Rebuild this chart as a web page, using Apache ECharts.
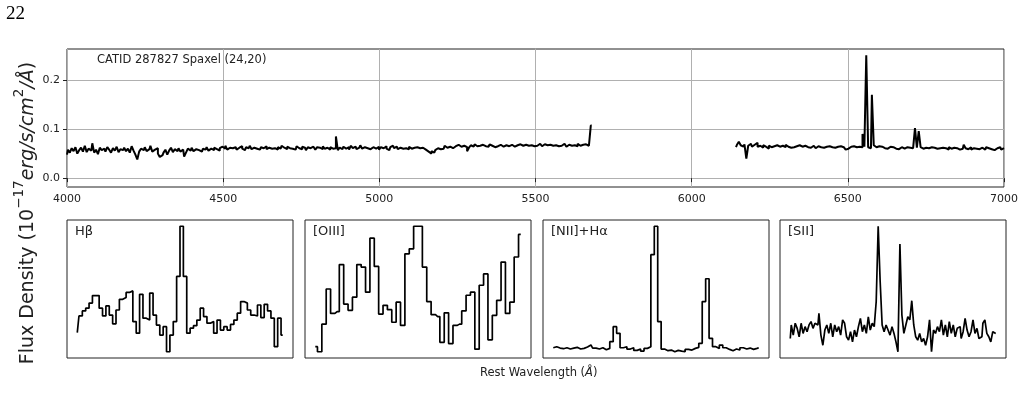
<!DOCTYPE html>
<html>
<head>
<meta charset="utf-8">
<script src="https://cdn.jsdelivr.net/npm/echarts@6/dist/echarts.min.js"></script>
<style>
html,body{margin:0;padding:0;background:#fff;}
#chart{width:1025px;height:409px;}
</style>
</head>
<body>
<div id="chart"></div>
<script>
// ---------- DATA ----------
const pageNumber = "22";
const spectrumTitle = "CATID 287827 Spaxel (24,20)";
const xTicks = [4000, 4500, 5000, 5500, 6000, 6500, 7000];
const yTicks = [0.0, 0.1, 0.2];
const panelLabels = ["H\u03b2", "[OIII]", "[NII]+H\u03b1", "[SII]"];

// full spectrum, blue segment: 4000..5680 A, 6 A sampling
const blueStart = 4000, blueStep = 6;
const blueFlux = [
.048,.058,.052,.061,.055,.063,.050,.057,.062,.054,
.066,.053,.060,.056,.071,.052,.058,.049,.062,.057,
.060,.054,.063,.058,.052,.061,.056,.064,.053,.059,
.057,.062,.055,.060,.052,.065,.056,.048,.038,.054,
.060,.057,.063,.055,.059,.066,.054,.058,.061,.050,
.043,.047,.052,.058,.048,.056,.062,.053,.059,.055,
.061,.054,.058,.044,.052,.060,.056,.062,.055,.059,
.057,.061,.054,.060,.058,.063,.056,.060,.057,.062,
.059,.056,.061,.064,.060,.066,.058,.062,.061,.059,
.063,.058,.062,.065,.060,.057,.063,.061,.066,.059,
.062,.060,.064,.058,.063,.061,.065,.059,.062,.060,
.064,.061,.058,.063,.060,.066,.062,.059,.064,.061,
.060,.063,.058,.065,.061,.059,.064,.062,.057,.063,
.061,.064,.060,.058,.063,.062,.059,.065,.060,.062,
.058,.063,.060,.061,.085,.057,.062,.059,.064,.060,
.063,.058,.066,.061,.064,.059,.062,.067,.060,.063,
.061,.065,.059,.063,.066,.060,.064,.058,.063,.061,
.065,.060,.057,.063,.066,.061,.064,.059,.062,.060,
.063,.061,.059,.064,.060,.062,.058,.063,.061,.059,
.062,.058,.060,.054,.050,.055,.052,.057,.061,.059,
.063,.060,.066,.062,.064,.067,.061,.065,.063,.068,
.064,.061,.066,.063,.055,.062,.067,.064,.069,.065,
.066,.063,.068,.065,.067,.064,.069,.066,.063,.067,
.065,.068,.066,.064,.067,.070,.065,.068,.066,.064,
.067,.065,.069,.066,.064,.068,.066,.063,.067,.065,
.068,.066,.070,.067,.065,.069,.067,.064,.068,.066,
.069,.067,.065,.068,.066,.070,.067,.064,.068,.066,
.069,.067,.065,.070,.066,.068,.064,.069,.066,.063,
.107
];
// full spectrum, red segment: 6142..7000 A, 6 A sampling
const redStart = 6142, redStep = 6;
const redFlux = [
.063,.068,.074,.067,.064,.069,.040,.066,.070,.064,
.068,.072,.064,.066,.062,.067,.064,.060,.066,.063,
.065,.062,.067,.064,.061,.066,.063,.068,.064,.062,
.066,.063,.065,.061,.067,.064,.062,.066,.063,.065,
.062,.066,.064,.061,.065,.063,.066,.062,.064,.061,
.065,.063,.066,.062,.064,.061,.065,.063,.062,.058,
.060,.064,.062,.065,.063,.066,.064,.063,.090,.064,
.250,.063,.061,.170,.067,.063,.065,.062,.064,.061,
.063,.060,.064,.061,.063,.060,.062,.059,.063,.061,
.060,.063,.059,.062,.061,.064,.102,.062,.096,.063,
.060,.062,.058,.061,.063,.059,.062,.060,.057,.061,
.062,.059,.061,.058,.063,.060,.062,.059,.061,.058,
.062,.060,.068,.061,.059,.063,.058,.061,.060,.062,
.059,.062,.060,.058,.063,.061,.059,.062,.057,.061,
.060,.063,.058,.061
];

// zoom panels
const hbStart = 4829, hbStep = 1.1;
const hbFlux = [
.0511,.0564,.0580,.0589,.0605,.0629,.0629,.0589,.0564,.0596,
.0567,.0539,.0583,.0617,.0623,.0639,.0644,.0546,.0509,.0633,
.0557,.0551,.0637,.0567,.0535,.0503,.0530,.0450,.0503,.0546,
.0690,.0850,.0690,.0509,.0525,.0533,.0551,.0589,.0562,.0541,
.0546,.0509,.0551,.0519,.0530,.0519,.0537,.0551,.0573,.0610,
.0605,.0583,.0567,.0564,.0599,.0559,.0601,.0580,.0557,.0466,
.0557,.0503
];
const o3Start = 4980, o3Step = 1.2;
const o3Flux = [
.0558,.0550,.0594,.0650,.0611,.0614,.0689,.0626,.0616,.0637,
.0689,.0685,.0645,.0731,.0686,.0610,.0624,.0617,.0597,.0629,
.0592,.0706,.0714,.0750,.0750,.0685,.0630,.0609,.0606,.0565,
.0612,.0563,.0592,.0594,.0615,.0640,.0645,.0554,.0656,.0674,
.0569,.0608,.0632,.0693,.0611,.0629,.0701,.0737
];
const haStart = 6524, haStep = 1.33;
const haFlux = [
.0612,.0628,.0607,.0597,.0612,.0592,.0607,.0618,.0592,.0602,
.0623,.0654,.0607,.0592,.0612,.0581,.0602,.0706,.0940,.0836,
.0612,.0628,.0592,.0612,.0571,.0592,.0560,.0602,.0628,.2058,
.2500,.1018,.0592,.0566,.0576,.0550,.0571,.0560,.0550,.0586,
.0576,.0602,.0618,.0680,.1330,.1684,.0758,.0628,.0602,.0654,
.0612,.0586,.0566,.0592,.0576,.0612,.0592,.0607,.0586,.0602,
.0612
];
const s2Start = 6652, s2Step = 1.4;
const s2Flux = [
.0602,.0650,.0614,.0656,.0638,.0608,.0656,.0620,.0644,.0626,
.0650,.0662,.0638,.0656,.0650,.0691,.0614,.0578,.0632,.0650,
.0620,.0656,.0608,.0650,.0626,.0644,.0614,.0668,.0656,.0608,
.0596,.0626,.0590,.0632,.0608,.0644,.0673,.0626,.0650,.0620,
.0679,.0632,.0656,.0644,.0733,.1000,.0804,.0650,.0626,.0650,
.0632,.0614,.0644,.0620,.0590,.0555,.0937,.0685,.0620,.0650,
.0679,.0668,.0736,.0650,.0608,.0596,.0620,.0590,.0602,.0578,
.0608,.0668,.0555,.0632,.0620,.0644,.0626,.0668,.0614,.0650,
.0608,.0662,.0620,.0650,.0608,.0638,.0644,.0602,.0626,.0673,
.0632,.0608,.0626,.0668,.0620,.0638,.0602,.0608,.0656,.0668,
.0620,.0608,.0590,.0626,.0620
];

// ---------- BUILD ----------
function pairs(start, step, arr){ return arr.map((v,i)=>[start + i*step, v]); }
function padRange(lo, hi){ const d = (hi-lo)*0.05; return [lo-d, hi+d]; }

const chart = echarts.init(document.getElementById('chart'), null, {renderer:'canvas'});
const FONT = 'DejaVu Sans';
const panelLefts = [67, 305, 543, 780];
const panelData = [
  pairs(hbStart, hbStep, hbFlux),
  pairs(o3Start, o3Step, o3Flux),
  pairs(haStart, haStep, haFlux),
  pairs(s2Start, s2Step, s2Flux)
];

const grids = [{left:67, top:49, width:937, height:138, show:true, borderColor:'#222', borderWidth:1, backgroundColor:'transparent'}];
const xAxes = [{
  gridIndex:0, type:'value', min:xTicks[0], max:xTicks[xTicks.length-1], interval:500,
  axisLine:{show:false},
  axisTick:{show:true, length:4, lineStyle:{color:'#222'}},
  axisLabel:{show:true, margin:7, fontFamily:FONT, fontSize:11, color:'#222', showMinLabel:true, showMaxLabel:true, formatter:v=>String(v)},
  splitLine:{show:true, lineStyle:{color:'#b0b0b0', width:1}}
}];
const yAxes = [{
  gridIndex:0, type:'value', min:-0.018, max:0.263,
  axisLine:{show:false},
  axisTick:{show:true, length:4, lineStyle:{color:'#222'}, customValues:yTicks},
  axisLabel:{show:true, margin:7, fontFamily:FONT, fontSize:11, color:'#222', customValues:yTicks, formatter:v=>v.toFixed(1)},
  splitLine:{show:true, lineStyle:{color:'#b0b0b0', width:1}}
}];
const series = [
  {type:'line', xAxisIndex:0, yAxisIndex:0, data:pairs(blueStart, blueStep, blueFlux), step:'middle', showSymbol:false, lineStyle:{color:'#000', width:2}, animation:false},
  {type:'line', xAxisIndex:0, yAxisIndex:0, data:pairs(redStart, redStep, redFlux), step:'middle', showSymbol:false, lineStyle:{color:'#000', width:2}, animation:false}
];
const graphics = [];

panelData.forEach((d,k)=>{
  const gi = k+1;
  grids.push({left:panelLefts[k], top:220, width:226, height:138, show:true, borderColor:'#222', borderWidth:1, backgroundColor:'transparent'});
  const xs = d.map(p=>p[0]), ys = d.map(p=>p[1]);
  const xr = padRange(Math.min(...xs), Math.max(...xs));
  const yr = padRange(Math.min(...ys), Math.max(...ys));
  xAxes.push({gridIndex:gi, type:'value', min:xr[0], max:xr[1], show:false});
  yAxes.push({gridIndex:gi, type:'value', min:yr[0], max:yr[1], show:false});
  series.push({type:'line', xAxisIndex:gi, yAxisIndex:gi, data:d, step:'middle', showSymbol:false, lineStyle:{color:'#000', width:1.7}, animation:false});
  graphics.push({type:'text', left:panelLefts[k]+8, top:225, style:{text:panelLabels[k], font:'13px "DejaVu Sans"', fill:'#222'}});
});

graphics.push({type:'text', left:6, top:5, style:{text:pageNumber, font:'19px "Liberation Serif"', fill:'#000'}});
graphics.push({type:'text', left:97, top:54, style:{text:spectrumTitle, font:'11.5px "DejaVu Sans"', fill:'#222'}});
graphics.push({type:'text', left:480, top:367, style:{
  text:'{a|Rest Wavelength (}{i|\u00c5}{a|)}',
  rich:{a:{fontFamily:FONT, fontSize:11.5, fill:'#222'}, i:{fontFamily:FONT, fontSize:11.5, fontStyle:'italic', fill:'#222'}}
}});
graphics.push({type:'text', x:25, y:213, rotation:Math.PI/2, style:{
  text:'{a|Flux Density (10}{s|\u221217}{i|erg/s/cm}{s|2}{i|/\u00c5}{a|)}',
  align:'center', verticalAlign:'middle',
  rich:{
    a:{fontFamily:FONT, fontSize:19, fill:'#222', lineHeight:26, verticalAlign:'bottom'},
    i:{fontFamily:FONT, fontSize:19, fontStyle:'italic', fill:'#222', lineHeight:26, verticalAlign:'bottom'},
    s:{fontFamily:FONT, fontSize:13.5, fill:'#222', lineHeight:26, verticalAlign:'top'}
  }
}});

chart.setOption({
  animation:false,
  backgroundColor:'#fff',
  grid:grids, xAxis:xAxes, yAxis:yAxes, series:series, graphic:graphics
});
</script>
</body>
</html>
